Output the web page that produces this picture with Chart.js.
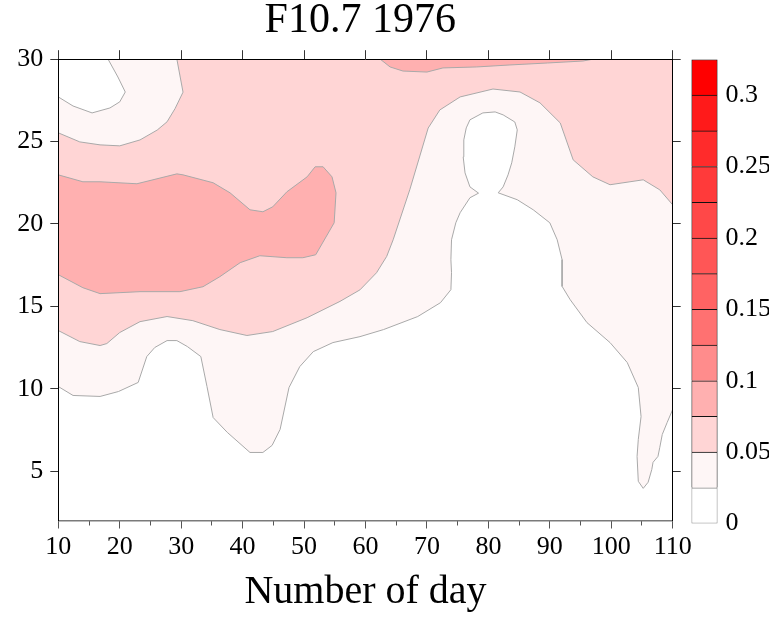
<!DOCTYPE html>
<html>
<head>
<meta charset="utf-8">
<script src="https://cdn.jsdelivr.net/npm/chart.js@4.4.1/dist/chart.umd.min.js"></script>
<style>
  html, body { margin: 0; padding: 0; background: #fff; overflow: hidden; }
  #wrap { position: relative; width: 769px; height: 620px; overflow: hidden; }
  #main { position: absolute; left: 0; top: 0; }
  #bar { position: absolute; left: 690px; top: 0; }
</style>
</head>
<body>
<div id="wrap">
  <canvas id="main" width="769" height="620"></canvas>
  <canvas id="bar" width="140" height="620"></canvas>
</div>
<script>
// axis limits: day of year and height
const dayRange = [10, 110];
const yRange = [2, 30];

// colour levels of the colour bar (step 0.025)
const levelStep = 0.025;
const levelColors = ['#ffffff', '#fef6f6', '#ffd5d5', '#ffb0b0', '#ff8c8c', '#ff7171', '#ff6363',
                     '#ff5656', '#ff4848', '#ff3a3a', '#ff2b2b', '#ff1a1a', '#ff0000'];

// contour lines, [day, value]
// 0.05 level: top edge -> left edge
const c05a = [[29.3,30],[30.3,28.0],[29.0,27.0],[27.7,26.2],[26.1,25.7],[23.3,25.1],[20.0,24.74],
              [16.8,24.8],[13.5,24.98],[10,25.53]];
// 0.05 level: left edge -> right edge
const c05b = [[10,13.53],[13.5,12.86],[16.8,12.62],[17.9,12.74],[20.0,13.41],[23.3,14.07],[27.7,14.38],
              [31.9,14.13],[36.3,13.59],[40.7,13.23],[44.9,13.47],[50.5,14.31],[55.85,15.3],[59.1,16.0],
              [61.8,17.04],[63.45,18.03],[64.5,19.04],[67.2,22.07],[70.2,25.82],[72.1,26.92],[75.4,27.71],
              [80.75,28.19],[85.15,28.01],[88.4,27.35],[91.7,26.13],[93.8,23.89],[97.0,22.86],[99.8,22.38],
              [103.05,22.56],[105.2,22.68],[107.9,22.07],[110,21.16]];
// 0.075 level: left blob
const c075blob = [[10,22.98],[14.0,22.56],[16.8,22.56],[22.8,22.44],[25.4,22.68],[29.3,23.04],[30.3,22.98],
                  [35.2,22.5],[37.95,21.89],[41.2,20.86],[43.3,20.74],[44.9,21.04],[47.2,21.95],[50.5,22.86],
                  [51.8,23.47],[53.1,23.47],[54.55,22.86],[55.2,21.89],[54.9,20.07],[51.9,18.13],[49.8,17.95],
                  [47.2,17.95],[42.8,18.07],[39.6,17.65],[36.3,16.8],[33.55,16.19],[29.8,15.89],[23.3,15.89],
                  [16.8,15.77],[14.0,16.13],[10,16.92]];
// 0.075 level: thin strip at the top
const c075strip = [[62.4,30],[64.0,29.53],[66.1,29.28],[70.0,29.22],[72.6,29.47],[78.1,29.53],[83.5,29.65],
                   [89.6,29.77],[95.4,29.89],[97,30]];
// 0.025 level: top-left corner
const c025corner = [[10,27.71],[12.4,27.16],[15.5,26.74],[18.4,27.04],[20.0,27.41],[20.9,28.01],[19.7,28.92],[18.1,30]];
// 0.025 level: left edge -> right edge, around the hole near day 80
const c025main = [[10,10.13],[12.4,9.59],[16.8,9.53],[19.8,9.83],[23.0,10.38],[24.4,11.95],[25.7,12.5],
                  [27.7,12.92],[29.3,12.92],[31.0,12.56],[33.2,11.95],[34.2,10.13],[35.2,8.25],[37.5,7.35],
                  [41.2,6.13],[43.3,6.13],[44.8,6.56],[46.1,7.53],[47.55,10.07],[49.3,11.34],[51.5,12.25],
                  [54.7,12.8],[59.1,13.16],[62.95,13.59],[68.5,14.38],[72.2,15.22],[73.9,16.01],[74.0,17.04],
                  [73.9,17.83],[74.0,19.04],[74.7,20.07],[75.4,20.68],[77.0,21.59],[78.4,21.87],[77.0,22.25],
                  [76.2,23.1],[75.9,24.07],[76.0,25.1],[76.4,25.83],[77.0,26.32],[79.1,26.74],[81.1,26.8],
                  [82.4,26.62],[84.3,26.19],[84.7,25.71],[84.3,24.68],[83.8,23.71],[83.2,22.98],[82.4,22.25],
                  [81.6,21.89],[84.7,21.47],[87.3,20.86],[90.0,20.07],[91.2,19.04],[92.0,17.83],[92.0,16.21],
                  [93.3,15.41],[96.05,14.01],[99.8,12.8],[102.6,11.59],[104.4,10.07],[104.85,8.31],[104.4,6.92],
                  [104.2,5.89],[104.4,4.38],[105.2,3.95],[106.0,4.32],[106.6,5.1],[106.8,5.53],[107.6,5.89],
                  [107.9,6.44],[108.3,7.22],[109.1,7.95],[110,8.74]];

const serif = "'Liberation Serif', 'Times New Roman', serif";
const pts = arr => arr.map(p => ({x: p[0], y: p[1]}));

// filled areas, bottom to top
const x0 = dayRange[0], x1 = dayRange[1], y0 = yRange[0], y1 = yRange[1];
const areas = [
  {poly: [[x0,y0],[x1,y0],[x1,y1],[x0,y1]], color: levelColors[1]},
  {poly: c05a.concat(c05b, [[x1, y1]]), color: levelColors[2]},
  {poly: c075blob, color: levelColors[3]},
  {poly: c075strip, color: levelColors[3]},
  {poly: c025main.concat([[x1, y0], [x0, y0]]), color: levelColors[0]},
  {poly: c025corner.concat([[x0, y1]]), color: levelColors[0]}
];
const contours = [c05a, c05b, c075blob, c075strip, c025corner, c025main];

let datasets = [];
areas.forEach(function(a, i) {
  datasets.push({data: pts(a.poly), fill: 'shape', backgroundColor: a.color,
    borderColor: 'rgba(0,0,0,0)', borderWidth: 0, pointRadius: 0, tension: 0, order: 100 - i});
});
contours.forEach(function(c, i) {
  datasets.push({data: pts(c), fill: false, borderColor: '#a9a9a9', borderWidth: 1,
    pointRadius: 0, tension: 0, order: 10 - i});
});

const onlyFives = s => { s.ticks = s.ticks.filter(t => t.value % 5 === 0); };

new Chart(document.getElementById('main'), {
  type: 'line',
  data: { datasets: datasets },
  options: {
    responsive: false,
    animation: false,
    layout: { padding: { left: 0, right: 86.3, top: 0, bottom: 0 } },
    plugins: {
      legend: { display: false },
      tooltip: { enabled: false },
      // trailing space nudges the title a little left of the plot centre, as in the original
      title: { display: true, text: 'F10.7 1976 ', fullSize: false, color: '#000',
               font: { family: serif, size: 42, weight: 'normal', lineHeight: 1 },
               padding: { top: 0, bottom: 7.2 } },
    },
    scales: {
      x: { type: 'linear', position: 'bottom', min: x0, max: x1, weight: 1,
           ticks: { stepSize: 10, color: '#000', font: { family: serif, size: 26 }, padding: 3, maxRotation: 0, autoSkip: false },
           grid: { drawOnChartArea: false, tickLength: 8, color: '#555' },
           border: { color: '#7a7a7a', width: 1.5, z: 1 },
           title: { display: true, text: 'Number of day', color: '#000',
                    font: { family: serif, size: 40 }, padding: { top: 0, bottom: 4 } },
           afterFit: s => { s.height = 99.5; } },
      xMinor: { type: 'linear', position: 'bottom', min: x0, max: x1, weight: 0,
           ticks: { display: false, stepSize: 5 },
           grid: { drawOnChartArea: false, tickLength: 5, color: '#555' },
           border: { display: false },
           afterFit: s => { s.height = 0; } },
      xTop: { type: 'linear', position: 'top', min: x0, max: x1,
           ticks: { display: false, stepSize: 10 },
           grid: { drawOnChartArea: false, tickLength: 9, color: '#333' },
           border: { color: '#000', z: 1 },
           afterFit: s => { s.height = 10; } },
      y: { type: 'linear', position: 'left', min: y0, max: y1,
           ticks: { stepSize: 5, color: '#000', font: { family: serif, size: 26 }, padding: 7 },
           afterBuildTicks: onlyFives,
           grid: { drawOnChartArea: false, tickLength: 8, color: '#333' },
           border: { color: '#000', z: 1 },
           afterFit: s => { s.width = 58.3; } },
      yRight: { type: 'linear', position: 'right', min: y0, max: y1,
           ticks: { display: false, stepSize: 5 },
           afterBuildTicks: onlyFives,
           grid: { drawOnChartArea: false, tickLength: 8, color: '#333' },
           border: { color: '#000', z: 1 },
           afterFit: s => { s.width = 10; } }
    }
  }
});

// colour bar
const levelCount = levelColors.length;
new Chart(document.getElementById('bar'), {
  type: 'bar',
  data: {
    labels: [''],
    datasets: levelColors.map(function(c, i) {
      return { data: [levelStep], backgroundColor: c, borderColor: i === 0 ? '#888' : '#111',
               borderWidth: { top: 1, left: 1, right: 1, bottom: i === 0 ? 1 : 0 }, borderSkipped: false,
               barPercentage: 1, categoryPercentage: 1 };
    })
  },
  options: {
    responsive: false,
    animation: false,
    layout: { padding: { left: 1.5, right: 0, top: 59.5, bottom: 96.5 } },
    plugins: { legend: { display: false }, tooltip: { enabled: false } },
    scales: {
      x: { stacked: true, display: false },
      y: { stacked: true, position: 'right', min: 0, max: levelStep * levelCount,
           grid: { display: false, drawTicks: false }, border: { display: false },
           ticks: { stepSize: 0.05, color: '#000', font: { family: serif, size: 26 }, padding: 8,
                    callback: v => String(+v.toFixed(3)) },
           afterBuildTicks: s => { s.ticks = s.ticks.filter(t => Math.abs(t.value / 0.05 - Math.round(t.value / 0.05)) < 1e-6); },
           afterFit: s => { s.width = 140 - 27.5; } }
    }
  }
});
</script>
</body>
</html>
